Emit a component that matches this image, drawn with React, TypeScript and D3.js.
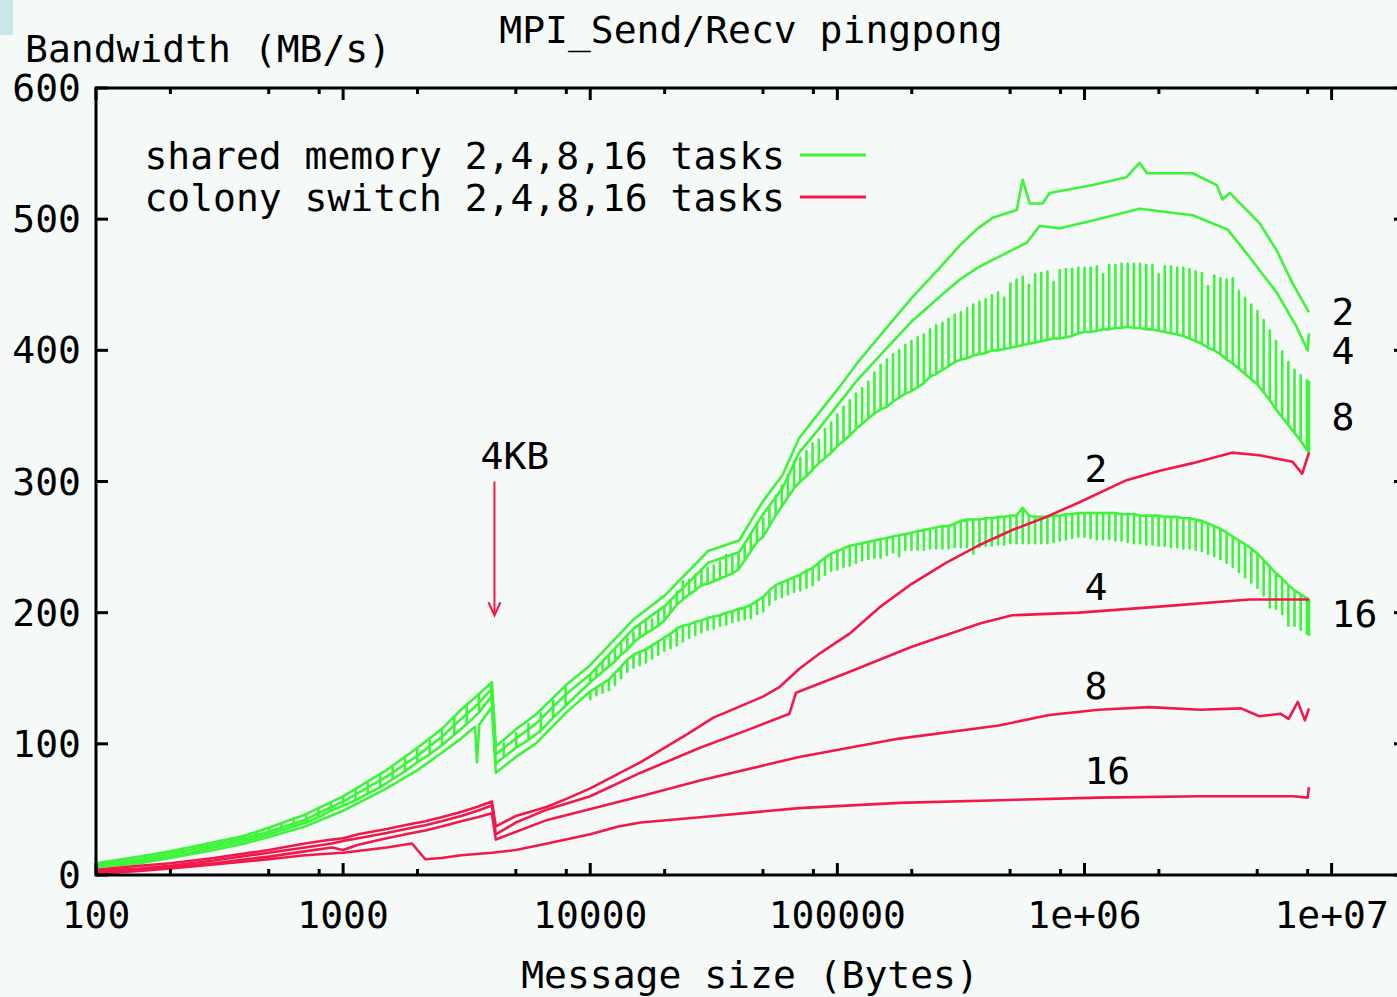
import React from "react";
import * as d3 from "d3";

// ---- shared memory (green), 2/4/8/16 tasks ----
const G2_SIZES = [100, 150, 200, 300, 400, 500, 700, 1000, 1500, 2000, 2500, 3000, 3500, 4000, 4150, 5000, 6000, 8000, 10000, 15000, 20000, 30000, 40000, 50000, 60000, 70000, 80000, 100000, 120000, 150000, 200000, 260000, 313000, 370000, 425000, 532000, 562000, 600000, 677000, 723000, 1080000, 1480000, 1670000, 1790000, 2740000, 3430000, 3620000, 3870000, 5110000, 6000000, 6950000, 8100000];
const G2_VALUES = [9, 14, 18, 25, 30, 36, 46, 60, 80, 97, 111, 126, 137, 147, 98, 111, 122, 145, 160, 195, 213, 247, 255, 285, 305, 333, 347, 370, 390, 412, 440, 463, 480, 493, 501, 507, 530, 512, 512, 520, 526, 532, 543, 535, 535, 526, 515, 520, 497, 476, 451, 429];

const G4_SIZES = [100, 150, 200, 300, 400, 500, 700, 1000, 1500, 2000, 2500, 3000, 3500, 4000, 4150, 5000, 6000, 8000, 10000, 15000, 20000, 30000, 40000, 50000, 60000, 70000, 80000, 100000, 120000, 150000, 200000, 260000, 313000, 370000, 425000, 584000, 659000, 794000, 1080000, 1670000, 2740000, 3800000, 4660000, 6000000, 7210000, 8000000, 8100000];
const G4_VALUES = [8, 12, 16, 23, 28, 33, 42, 56, 75, 91, 105, 119, 130, 142, 92, 104, 115, 138, 153, 188, 205, 238, 246, 275, 295, 322, 335, 358, 377, 397, 422, 441, 454, 463, 469, 482, 495, 493, 499, 508, 503, 492, 471, 444, 418, 400, 413];

// 8 tasks below 10 KB: each size gives a low and a high reading
const G8_LEFT_SIZES = [100, 112, 126, 141, 158, 178, 200, 224, 251, 282, 316, 355, 398, 447, 501, 562, 631, 708, 794, 891, 1000, 1122, 1259, 1413, 1585, 1778, 1995, 2239, 2512, 2818, 3162, 3548, 3981, 4150, 4467, 5012, 5623, 6310, 7079, 7943];
const G8_LEFT_BASE = [7, 8, 9, 10, 11, 12.5, 14, 16, 17.5, 20, 22, 24, 26, 28.5, 31, 34, 37, 40, 44, 49, 53, 57, 62, 67, 73, 79, 86, 92, 99, 107, 115, 124, 136, 85, 90, 97, 103, 110, 120, 129];
const G8_LEFT_PEAK = [9, 10, 12, 13, 15, 16, 18, 20, 22, 24, 26, 28, 30, 33, 36, 39, 43, 46, 51, 55, 60, 65, 70, 76, 82, 89, 96, 103, 110, 120, 130, 138, 146, 85, 100, 108, 115, 123, 133, 143];

const G16_SIZES = [100, 150, 200, 300, 400, 500, 700, 1000, 1500, 2000, 2500, 3000, 3420, 3480, 3560, 4000, 4150, 5000, 6000, 8000];
const G16_VALUES = [6, 9, 13, 19, 24, 29, 37, 49, 66, 80, 93, 104, 113, 86, 115, 128, 78, 90, 100, 124];

// message sizes where the 8- and 16-task runs alternate between two bandwidth levels
const COMB_SIZES = [
  10000, 10590, 11220, 11890, 12590, 13340, 14130, 14960, 15850, 16790, 17780, 18840, 19950, 21130, 22390, 23710, 25120, 26610, 28180, 29850, 31620, 33500, 35480, 37580, 39810, 42170, 44670, 47320, 50120, 53090, 56230, 59570, 63100, 66830, 70800, 74990, 79430, 84140, 89130, 94410,
  100000, 105900, 112200, 118900, 125900, 133400, 141300, 149600, 158500, 167900, 177800, 188400, 199500, 211300, 223900, 237100, 251200, 266100, 281800, 298500, 316200, 335000, 354800, 375800, 398100, 421700, 446700, 473200, 501200, 530900, 562300, 595700, 631000, 668300, 708000, 749900, 794300, 841400, 891300, 944100,
  1000000, 1059000, 1122000, 1189000, 1259000, 1334000, 1413000, 1496000, 1585000, 1679000, 1778000, 1884000, 1995000, 2113000, 2239000, 2371000, 2512000, 2661000, 2818000, 2985000, 3162000, 3350000, 3548000, 3758000, 3981000, 4217000, 4467000, 4732000, 5012000, 5309000, 5623000, 5957000, 6310000, 6683000, 7080000, 7499000, 7943000, 8100000,
];
const G8_BASE = [
  147, 151, 155, 159, 163, 168, 172, 177, 181, 184, 187, 190, 194, 200, 206, 210, 214, 217, 221, 222, 224, 226, 228, 230, 233, 240, 247, 254, 258, 266, 274, 281, 288, 295, 300, 304, 309, 314, 318, 322,
  327, 331, 335, 340, 344, 348, 352, 355, 357, 361, 364, 367, 369, 372, 375, 380, 382, 385, 388, 391, 393, 394, 396, 397, 398, 400, 400, 401, 402, 403, 404, 405, 406, 407, 408, 409, 409, 410, 411, 413,
  414, 414, 415, 416, 416, 417, 417, 418, 417, 417, 416, 416, 415, 414, 413, 412, 411, 409, 407, 405, 402, 400, 397, 393, 390, 386, 382, 378, 374, 368, 362, 355, 349, 343, 337, 331, 324, 322,
];
const G8_PEAK = [
  152, 157, 162, 167, 171, 176, 180, 185, 190, 193, 195, 201, 205, 210, 216, 224, 225, 229, 233, 234, 236, 239, 244, 243, 246, 252, 260, 268, 272, 280, 289, 297, 305, 315, 318, 323, 329, 332, 340, 345,
  351, 357, 362, 367, 371, 376, 383, 389, 393, 397, 400, 404, 407, 410, 412, 416, 419, 421, 424, 427, 429, 432, 435, 437, 439, 442, 444, 440, 451, 454, 456, 450, 458, 459, 460, 452, 461, 462, 462, 463,
  463, 463, 464, 458, 465, 465, 466, 466, 466, 466, 465, 465, 458, 464, 464, 463, 463, 462, 460, 459, 449, 457, 455, 454, 455, 445, 440, 435, 430, 423, 415, 407, 399, 391, 385, 381, 377, 376,
];
const G16_TOP = [
  140, 143, 146, 149, 154, 159, 164, 168, 170, 172, 175, 178, 181, 184, 188, 190, 191, 193, 194, 196, 197, 198, 200, 201, 203, 204, 206, 209, 212, 217, 221, 223, 225, 227, 229, 232, 234, 238, 242, 245,
  247, 249, 251, 252, 253, 254, 255, 256, 257, 258, 259, 260, 261, 262, 263, 264, 265, 266, 266, 268, 270, 271, 271, 271, 272, 272, 273, 273, 274, 274, 280, 274, 273, 273, 273, 274, 274, 275, 275, 276,
  276, 276, 276, 276, 276, 276, 275, 275, 275, 274, 274, 274, 274, 273, 273, 273, 272, 272, 271, 270, 268, 266, 264, 261, 258, 255, 252, 249, 245, 240, 235, 230, 226, 221, 217, 214, 211, 210,
];
const G16_LOW = [
  134, 137, 139, 141, 145, 150, 155, 158, 160, 162, 165, 168, 171, 173, 175, 178, 181, 183, 185, 187, 188, 190, 191, 193, 194, 195, 196, 199, 201, 206, 210, 212, 214, 216, 217, 219, 221, 225, 229, 232,
  233, 235, 236, 238, 240, 241, 242, 242, 244, 246, 243, 248, 248, 248, 248, 249, 249, 249, 249, 250, 250, 250, 245, 250, 251, 251, 252, 252, 253, 253, 253, 253, 253, 253, 253, 254, 255, 256, 257, 258,
  258, 257, 256, 256, 256, 255, 255, 254, 253, 253, 252, 252, 251, 251, 250, 250, 249, 249, 248, 247, 245, 243, 241, 238, 235, 231, 227, 223, 219, 213, 204, 203, 199, 190, 190, 187, 184, 183,
];

// ---- colony switch (red), 2/4/8/16 tasks ----
const R2_SIZES = [100, 150, 200, 300, 500, 700, 900, 1000, 1150, 1500, 1900, 2150, 2500, 3000, 3500, 4000, 4150, 5000, 6700, 8000, 10000, 16000, 25000, 31500, 50000, 58000, 70000, 85000, 112000, 148000, 200000, 275000, 380000, 510000, 700000, 950000, 1480000, 2000000, 2740000, 3950000, 5100000, 6950000, 7600000, 8100000];
const R2_VALUES = [4, 7, 9, 13, 19, 24, 27, 28, 31, 35, 39, 41, 44, 48, 52, 56, 37, 45, 52, 58, 66, 86, 108, 120, 136, 143, 157, 169, 184, 204, 222, 238, 252, 263, 273, 284, 301, 308, 314, 322, 320, 315, 306, 322];

const R4_SIZES = [100, 150, 200, 300, 500, 700, 900, 1000, 1150, 1500, 1900, 2150, 2500, 3000, 3500, 4000, 4150, 5000, 6700, 10000, 16000, 27800, 44000, 64000, 68000, 109000, 200000, 380000, 510000, 950000, 1830000, 4660000, 8100000];
const R4_VALUES = [3, 5, 7, 11, 17, 21, 24, 26, 28, 32, 36, 38, 41, 45, 49, 53, 31, 40, 50, 60, 78, 97, 111, 123, 139, 154, 174, 192, 198, 200, 204, 210, 210];

const R8_SIZES = [100, 150, 200, 300, 500, 700, 900, 1000, 1150, 1500, 1900, 2150, 2500, 3000, 3500, 4000, 4150, 6700, 16000, 27800, 70000, 178000, 450000, 720000, 1140000, 1830000, 2940000, 4300000, 5100000, 6200000, 6700000, 7300000, 7800000, 8100000];
const R8_VALUES = [2, 4, 6, 9, 14, 18, 21, 19, 23, 28, 32, 34, 37, 41, 44, 47, 27, 42, 60, 72, 90, 104, 114, 122, 126, 128, 126, 127, 121, 123, 119, 132, 118, 127];

const R16_SIZES = [100, 150, 200, 300, 500, 700, 1000, 1500, 1900, 2150, 2500, 3000, 4000, 5000, 6700, 10000, 13000, 16000, 27800, 70000, 178000, 450000, 1140000, 2940000, 7000000, 8000000, 8100000];
const R16_VALUES = [1, 3, 5, 8, 12, 15, 17, 21, 24, 12, 13, 15, 17, 19, 24, 31, 37, 40, 44, 51, 55, 57, 59, 60, 60, 59, 67];

// ---- axes ----
const X_MAJOR = [100, 1000, 10000, 100000, 1000000, 10000000];
const X_LABELS = ["100", "1000", "10000", "100000", "1e+06", "1e+07"];
const X_MINOR_STEPS = [2, 5, 8];
const Y_TICKS = [0, 100, 200, 300, 400, 500, 600];

// end-of-curve labels: [text, size, bandwidth]
const GREEN_LABELS: [string, number, number][] = [["2", 1e7, 430], ["4", 1e7, 400], ["8", 1e7, 350], ["16", 1e7, 200]];
const RED_LABELS: [string, number, number][] = [["2", 1e6, 310], ["4", 1e6, 220], ["8", 1e6, 145], ["16", 1e6, 80]];

const GREEN = "#3df43b";
const RED = "#f2184a";
const FONT = "'DejaVu Sans Mono', 'Liberation Mono', monospace";
const FS = 38;

type Pt = [number, number];
const zip = (s: number[], v: number[]): Pt[] => s.map((d, i) => [d, v[i]] as Pt);
const comb = (s: number[], a: number[], b: number[]): Pt[] => {
  const out: Pt[] = [];
  s.forEach((d, i) => {
    out.push([d, a[i]], [d, b[i]], [d, a[i]]);
  });
  return out;
};

export default function App() {
  const W = 1397;
  const H = 997;
  const x = d3.scaleLog().domain([100, 2e7]).range([96, 1406]);
  const y = d3.scaleLinear().domain([0, 600]).range([875, 88]);
  const line = d3
    .line<Pt>()
    .x((d) => x(d[0]))
    .y((d) => y(d[1]));

  const greens: Pt[][] = [
    zip(G2_SIZES, G2_VALUES),
    zip(G4_SIZES, G4_VALUES),
    [...comb(G8_LEFT_SIZES, G8_LEFT_BASE, G8_LEFT_PEAK), ...comb(COMB_SIZES, G8_BASE, G8_PEAK)],
    [...zip(G16_SIZES, G16_VALUES), ...comb(COMB_SIZES, G16_TOP, G16_LOW)],
  ];
  const reds: Pt[][] = [
    zip(R2_SIZES, R2_VALUES),
    zip(R4_SIZES, R4_VALUES),
    zip(R8_SIZES, R8_VALUES),
    zip(R16_SIZES, R16_VALUES),
  ];

  const [xl, xr] = x.range();
  const [yb, yt] = y.range();
  const minor: number[] = [];
  X_MAJOR.forEach((m) => X_MINOR_STEPS.forEach((k) => minor.push(m * k)));

  const arrowX = x(4096);
  const arrowTop = y(300);
  const arrowBot = y(198);

  return (
    <svg width={W} height={H} style={{ position: "absolute", left: 0, top: 0, display: "block" }} fontFamily={FONT} fontSize={FS}>
      <rect x={0} y={0} width={W} height={H} fill="#f5f9f8" />
      <rect x={0} y={0} width={13} height={35} fill="#cde6ec" />

      {/* curves */}
      <g fill="none" strokeWidth={2.6} strokeLinejoin="round">
        {greens.map((p, i) => (
          <path key={"g" + i} d={line(p) ?? ""} stroke={GREEN} />
        ))}
        {reds.map((p, i) => (
          <path key={"r" + i} d={line(p) ?? ""} stroke={RED} />
        ))}
      </g>

      {/* frame and ticks */}
      <g stroke="#000" strokeWidth={3} fill="none">
        <rect x={xl} y={yt} width={xr - xl} height={yb - yt} />
        {Y_TICKS.map((t) => (
          <g key={"yt" + t}>
            <line x1={xl} x2={xl + 12} y1={y(t)} y2={y(t)} />
            <line x1={xr} x2={xr - 12} y1={y(t)} y2={y(t)} />
          </g>
        ))}
        {X_MAJOR.map((t) => (
          <g key={"xt" + t}>
            <line x1={x(t)} x2={x(t)} y1={yb} y2={yb - 12} />
            <line x1={x(t)} x2={x(t)} y1={yt} y2={yt + 12} />
          </g>
        ))}
        {minor
          .filter((t) => x(t) < xr)
          .map((t) => (
            <g key={"xm" + t}>
              <line x1={x(t)} x2={x(t)} y1={yb} y2={yb - 6} />
              <line x1={x(t)} x2={x(t)} y1={yt} y2={yt + 6} />
            </g>
          ))}
      </g>

      {/* tick labels */}
      <g fill="#000">
        {Y_TICKS.map((t) => (
          <text key={"yl" + t} x={81} y={y(t) + 13} textAnchor="end">
            {t}
          </text>
        ))}
        {X_MAJOR.map((t, i) => (
          <text key={"xl" + t} x={x(t)} y={928} textAnchor="middle">
            {X_LABELS[i]}
          </text>
        ))}
        <text x={25} y={62}>Bandwidth (MB/s)</text>
        <text x={751} y={43} textAnchor="middle">MPI_Send/Recv pingpong</text>
        <text x={750} y={988} textAnchor="middle">Message size (Bytes)</text>

        {/* legend */}
        <text x={785} y={169} textAnchor="end">shared memory 2,4,8,16 tasks</text>
        <text x={785} y={211} textAnchor="end">colony switch 2,4,8,16 tasks</text>

        {GREEN_LABELS.map(([t, s, v]) => (
          <text key={"gl" + t} x={x(s)} y={y(v) + 14}>
            {t}
          </text>
        ))}
        {RED_LABELS.map(([t, s, v]) => (
          <text key={"rl" + t} x={x(s)} y={y(v) + 14}>
            {t}
          </text>
        ))}
        <text x={x(3600)} y={y(320) + 14}>4KB</text>
      </g>
      <line x1={800} x2={866} y1={155} y2={155} stroke={GREEN} strokeWidth={3} />
      <line x1={800} x2={866} y1={197} y2={197} stroke={RED} strokeWidth={3} />

      {/* 4KB marker */}
      <g stroke={RED} strokeWidth={2} fill="none">
        <line x1={arrowX} x2={arrowX} y1={arrowTop} y2={arrowBot} />
        <path d={`M${arrowX - 6},${arrowBot - 13} L${arrowX},${arrowBot} L${arrowX + 6},${arrowBot - 13}`} />
      </g>
    </svg>
  );
}
